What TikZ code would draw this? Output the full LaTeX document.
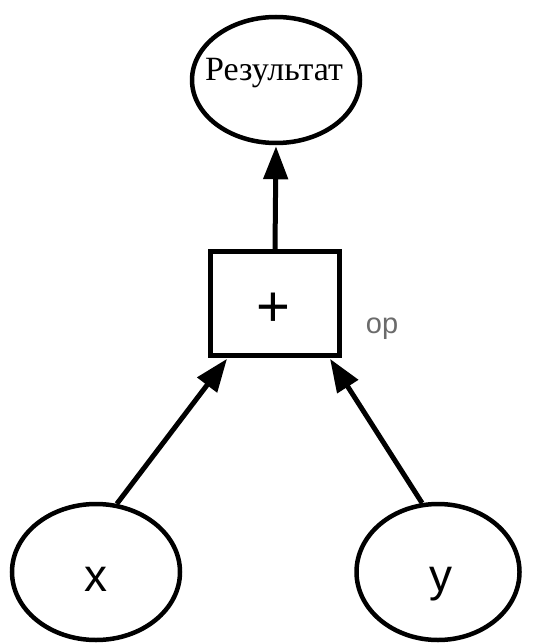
\documentclass[tikz,border=0pt]{standalone}
\usepackage{fontspec}
\setmainfont{Liberation Serif}
\newfontfamily\arialf{Liberation Sans}
\usetikzlibrary{shapes.geometric,arrows.meta}
\begin{document}
\begin{tikzpicture}[x=1pt,y=-1pt,
  oval/.style={draw, ellipse, line width=4.5pt, inner sep=0pt},
  opbox/.style={draw, rectangle, line width=5pt, inner sep=0pt, minimum width=129pt, minimum height=104pt},
  conn/.style={line width=5pt, -{Triangle[length=33pt,width=24pt]}, shorten >=1pt}]
\useasboundingbox (0,0) rectangle (539,644);
\fill[white] (0,0) rectangle (539,644);
\node[oval, minimum width=168pt, minimum height=126pt] (res) at (276,80) {};
\node[font=\fontsize{34}{38}\selectfont, anchor=base, inner sep=0pt] (restext) at (274,81) {Результат};
\node[opbox] (box) at (275,303.5) {};
\node[font=\arialf\fontsize{58}{62}\selectfont, inner sep=0pt] (plus) at (273,310) {+};
\node[font=\arialf\fontsize{29}{32}\selectfont, text=black!58, anchor=base, inner sep=0pt] (op) at (382,333) {op};
\node[oval, minimum width=168pt, minimum height=136pt] (x) at (96,572) {};
\node[font=\arialf\fontsize{46}{50}\selectfont, anchor=base, inner sep=0pt] (xt) at (96,591) {x};
\node[oval, minimum width=163pt, minimum height=136pt] (y) at (438,572) {};
\node[font=\arialf\fontsize{46}{50}\selectfont, anchor=base, inner sep=0pt] (yt) at (441,591) {y};
\draw[conn] (box.north) -- (res.south);
\draw[conn] (x.73) -- (box.-131);
\draw[conn] (y.103) -- (box.-45);
\end{tikzpicture}
\end{document}
